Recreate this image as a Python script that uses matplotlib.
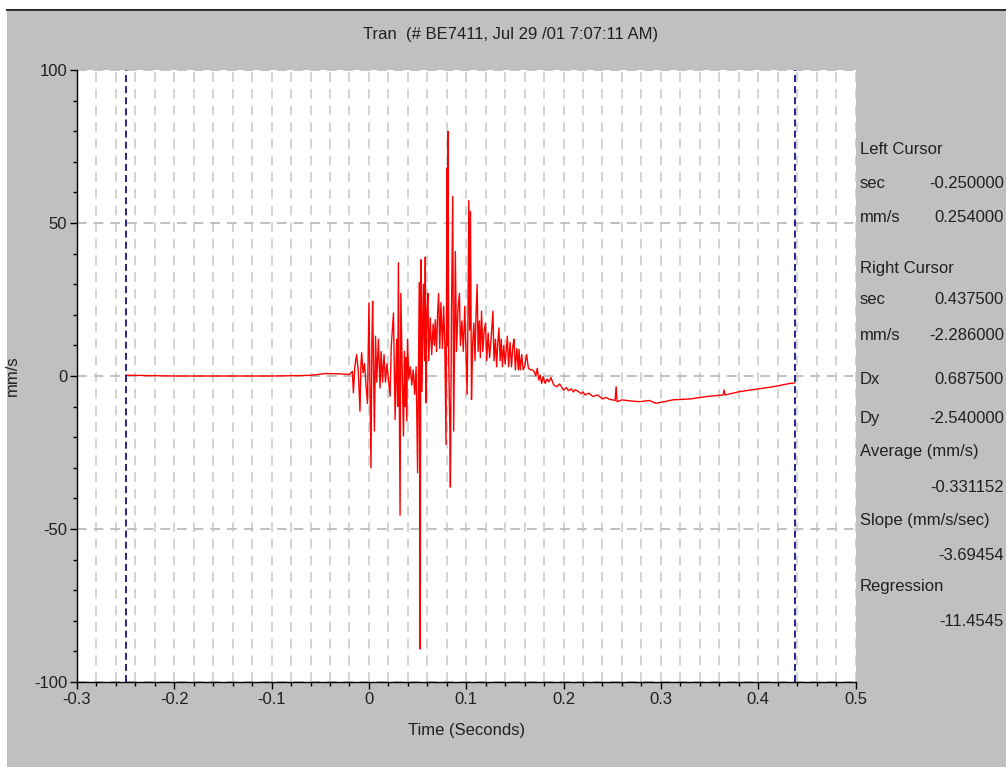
import numpy as np
import matplotlib

matplotlib.use('Agg')
import matplotlib.pyplot as plt
from matplotlib.patches import Rectangle
from matplotlib.lines import Line2D
from matplotlib.ticker import MultipleLocator

plt.rcParams['font.family'] = ['Liberation Sans', 'DejaVu Sans']
plt.rcParams['lines.scale_dashes'] = False
plt.rcParams['axes.unicode_minus'] = False

# quiet lead-in before the event
t_quiet = [-0.25, -0.20, -0.15, -0.10, -0.06, -0.045, -0.03, -0.02, -0.017]
v_quiet = [0.254, 0.0, 0.0, 0.0, 0.2, 0.8, 0.7, 0.5, 1.5]

# strong shaking part
t_burst = [
    -0.0160, -0.0145, -0.0127, -0.0110, -0.0092, -0.0082, -0.0075, -0.0060, -0.0045, -0.0030,
    -0.0015, 0.0000, 0.0021, 0.0030, 0.0038, 0.0056, 0.0068, 0.0080, 0.0097, 0.0114,
    0.0125, 0.0140, 0.0155, 0.0170, 0.0185, 0.0200, 0.0217, 0.0230, 0.0252, 0.0269,
    0.0285, 0.0295, 0.0303, 0.0320, 0.0328, 0.0340, 0.0355, 0.0365, 0.0375, 0.0380,
    0.0389, 0.0396, 0.0410, 0.0425, 0.0440, 0.0455, 0.0470, 0.0485, 0.0500, 0.0517,
    0.0522, 0.0527, 0.0532, 0.0537, 0.0545, 0.0560, 0.0572, 0.0579, 0.0586, 0.0595,
    0.0606, 0.0615, 0.0630, 0.0645, 0.0660, 0.0672, 0.0682, 0.0695, 0.0705, 0.0716,
    0.0728, 0.0740, 0.0755, 0.0768, 0.0780, 0.0792, 0.0802, 0.0808, 0.0813, 0.0820,
    0.0830, 0.0837, 0.0848, 0.0861, 0.0871, 0.0880, 0.0888, 0.0900, 0.0915, 0.0930,
    0.0940, 0.0955, 0.0970, 0.0985, 0.1000, 0.1009, 0.1018, 0.1026, 0.1035, 0.1043,
    0.1054, 0.1065, 0.1078, 0.1090, 0.1100, 0.1112, 0.1122, 0.1135, 0.1145, 0.1157,
    0.1170, 0.1185, 0.1198, 0.1210, 0.1225, 0.1240, 0.1255, 0.1274, 0.1285, 0.1300,
    0.1312, 0.1324, 0.1336, 0.1348, 0.1360, 0.1372, 0.1385, 0.1400, 0.1422, 0.1435,
    0.1450, 0.1465, 0.1480, 0.1491, 0.1505, 0.1520, 0.1535, 0.1542, 0.1555, 0.1570,
    0.1585, 0.1600, 0.1620, 0.1639, 0.1660, 0.1680, 0.1700, 0.1715, 0.1730, 0.1745,
    0.1760, 0.1775, 0.1790, 0.1810, 0.1830, 0.1850, 0.1870,
]
v_burst = [
    -5.5, 3.0, 7.0, 2.0, -11.5, 4.0, 7.6, 1.0, 4.0, -3.0,
    -9.0, 23.9, -30.0, 10.0, 24.4, -18.0, 13.0, -2.0, 12.0, -3.9,
    8.0, -2.0, 7.0, -2.0, 4.0, -1.0, -6.6, 10.0, 20.6, -14.2,
    12.0, -10.0, 37.0, -45.5, 27.0, 5.0, -19.6, 8.0, -10.0, 6.0,
    -14.7, 12.0, -1.0, 3.0, -3.0, 2.0, -6.0, 3.0, -31.6, 30.6,
    -20.0, -89.2, 15.0, 38.0, -5.0, 30.0, 5.0, 38.9, -8.8, 20.0,
    27.0, 5.0, 19.0, 7.0, 17.0, 10.0, 18.4, 8.0, 20.0, 27.0,
    9.0, 24.0, 9.0, 22.8, 10.0, -22.4, 68.0, 10.0, 79.9, 5.0,
    -15.0, -36.3, 20.0, 58.7, -18.0, 15.0, 40.7, 8.0, 22.0, 27.0,
    10.0, 18.0, 8.0, 22.8, 5.0, -6.0, 20.0, 57.3, 15.0, 53.8,
    -7.7, 10.0, 17.3, 5.0, 20.0, 29.9, 8.0, 18.0, 6.0, 21.2,
    8.0, 15.0, 17.3, 5.0, 14.0, 6.0, 12.0, 21.2, 5.0, 12.0,
    3.0, 11.0, 15.7, 5.0, 12.0, 3.0, 10.0, 4.0, 13.0, 3.0,
    11.0, 3.0, 10.0, 12.0, 2.0, 9.0, 2.0, 8.7, 2.0, 7.0,
    2.0, 3.0, 7.0, 2.5, 2.0, 2.0, 1.4, 0.0, 2.5, -1.3,
    0.3, -2.4, -0.2, -2.4, -1.0, -1.9, -0.5,
]

# slow drift back after the shaking, up to the right cursor
t_tail = [0.1900, 0.1930, 0.1960, 0.2000, 0.2030, 0.2050, 0.2080, 0.2100, 0.2120, 0.2150,
          0.2180, 0.2200, 0.2220, 0.2260, 0.2300, 0.2350, 0.2400, 0.2437, 0.2470, 0.2530,
          0.2540, 0.2550, 0.2600, 0.2700, 0.2780, 0.2880, 0.2950, 0.3050, 0.3120, 0.3300,
          0.3470, 0.3640, 0.3650, 0.3660, 0.3810, 0.3985, 0.4156, 0.4330, 0.4375]
v_tail = [-3.0, -3.5, -2.6, -4.6, -3.8, -4.8, -4.2, -5.2, -4.5, -5.0,
          -5.8, -5.2, -6.2, -5.6, -6.7, -6.2, -7.5, -7.0, -7.6, -8.0,
          -3.5, -8.4, -7.8, -8.2, -8.4, -8.0, -8.9, -8.3, -7.8, -7.5,
          -6.7, -6.2, -4.6, -6.2, -5.1, -4.3, -3.5, -2.4, -2.286]

cursor_left = -0.25
cursor_right = 0.4375

panel_labels = ["Left Cursor", "sec", "mm/s", "Right Cursor", "sec", "mm/s",
                "Dx", "Dy", "Average (mm/s)", "", "Slope (mm/s/sec)", "", "Regression", ""]
panel_values = ["", "-0.250000", "0.254000", "", "0.437500", "-2.286000",
                "0.687500", "-2.540000", "", "-0.331152", "", "-3.69454", "", "-11.4545"]
panel_rows_px = [150, 184, 218, 268, 300, 335, 379, 418, 452, 487, 520, 555, 587, 621]

title_text = "Tran  (# BE7411, Jul 29 /01 7:07:11 AM)"

W, H = 1006, 767
fig = plt.figure(figsize=(W / 100, H / 100), dpi=100, facecolor='white')
fig.patches.append(Rectangle((7 / W, 0), 1, 1 - 9 / H, transform=fig.transFigure,
                             facecolor='#c0c0c0', edgecolor='none', zorder=-10))
fig.add_artist(Line2D([7 / W, 1], [1 - 9.5 / H] * 2, color='#303030', lw=1.5))

ax = fig.add_axes([77 / W, 85 / H, 778.5 / W, 612 / H])
ax.set_facecolor('white')

t_all = np.array(t_quiet + t_burst + t_tail)
v_all = np.array(v_quiet + v_burst + v_tail)
ax.plot(t_all, v_all, color='#ff0000', lw=1.0, zorder=3)

for c in (cursor_left, cursor_right):
    ax.axvline(c, color='#000080', lw=1.2, linestyle=(0, (5, 3)), zorder=4)

ax.set_xlim(-0.3, 0.5)
ax.set_ylim(-100, 100)
ax.xaxis.set_major_locator(MultipleLocator(0.1))
ax.xaxis.set_minor_locator(MultipleLocator(0.02))
ax.yaxis.set_major_locator(MultipleLocator(50))
ax.yaxis.set_minor_locator(MultipleLocator(10))
ax.xaxis.set_major_formatter(plt.FuncFormatter(lambda x, p: f"{x:g}" if abs(x) > 1e-9 else "0"))

ax.grid(which='minor', axis='x', color='#c8c8c8', lw=1.1, linestyle=(0, (7, 5)))
ax.grid(which='major', axis='x', color='#c8c8c8', lw=1.1, linestyle=(0, (7, 5)))
ax.grid(which='major', axis='y', color='#c0c0c0', lw=1.4, linestyle=(0, (7, 5)))
ax.set_axisbelow(True)

for side in ('top', 'right'):
    ax.spines[side].set_visible(False)
for side in ('left', 'bottom'):
    ax.spines[side].set_color('black')
    ax.spines[side].set_linewidth(1.0)

ax.tick_params(which='major', direction='out', length=5, width=1, colors='black',
               labelsize=12, labelcolor='#202020', pad=2)
ax.tick_params(which='minor', direction='out', length=3, width=1, colors='black')

ax.set_xlabel("Time (Seconds)", fontsize=12, color='#202020', labelpad=12)
ax.set_ylabel("mm/s", fontsize=12, color='#202020')
ax.yaxis.set_label_coords((20 - 77) / 778.5, 0.5)

fig.text(511 / W, 1 - 35 / H, title_text, ha='center', va='center', fontsize=12, color='#202020')

for lab, val, ypx in zip(panel_labels, panel_values, panel_rows_px):
    y = 1 - ypx / H
    if lab:
        fig.text(860 / W, y, lab, ha='left', va='center', fontsize=12, color='#202020')
    if val:
        fig.text(1004 / W, y, val, ha='right', va='center', fontsize=12, color='#202020')

fig.savefig('out.png', dpi=100, facecolor=fig.get_facecolor())
